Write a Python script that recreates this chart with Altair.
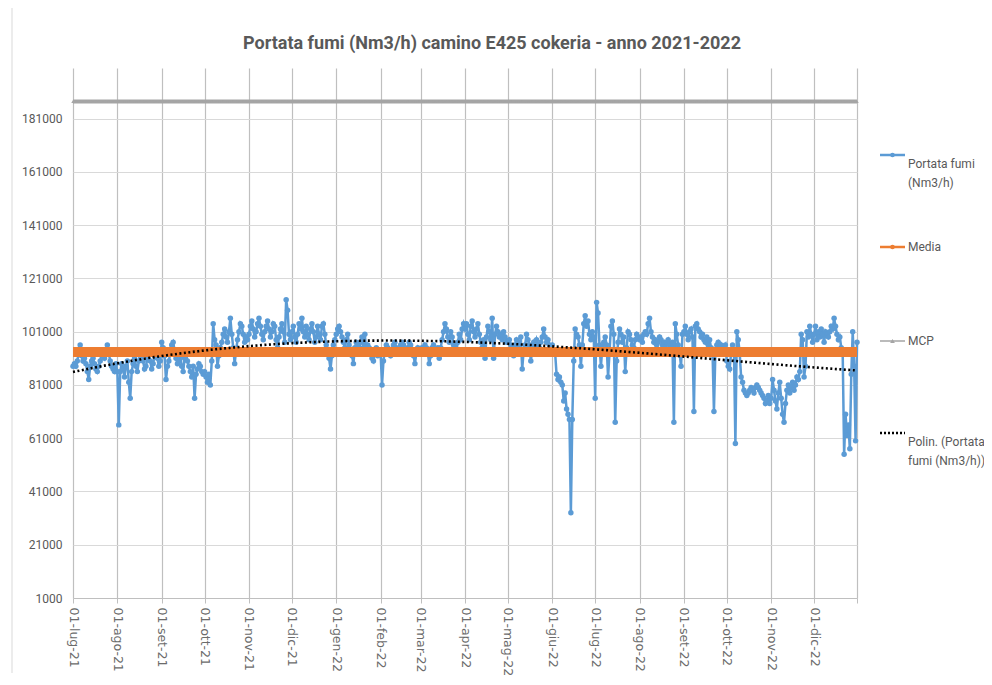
import altair as alt
import pandas as pd

# Daily "Portata fumi" values (thousands of Nm3/h)
jul21 = [88,89,88,90,93,96,92,90,91,89,86,83,88,90,91,89,87,86,88,90,93,92,91,94,96,93,90,88,87,86,89]
aug21 = [86,66,86,89,87,84,88,90,82,76,86,89,91,88,86,90,92,93,90,87,88,91,93,90,87,89,92,94,91,88,90]
sep21 = [97,95,92,83,88,90,93,96,97,94,91,89,90,92,88,86,91,93,90,88,86,84,88,76,85,87,89,88,86,85]
oct21 = [86,84,82,85,81,90,104,98,96,88,92,95,97,100,102,99,97,101,106,100,95,89,94,98,101,104,103,100,97,99,98]
nov21 = [100,103,105,102,99,101,104,106,103,100,98,101,103,105,102,99,101,104,103,98,95,99,102,104,101,97,113,109,100,98]
dec21 = [101,103,99,97,100,104,102,106,101,99,103,100,98,102,104,101,97,99,103,100,98,103,104,100,96,93,91,87,92,96,98]
jan22 = [100,102,103,101,99,97,95,98,100,96,94,92,89,95,97,96,94,97,99,95,100,93,96,95,94,91,90,93,95,92,94]
feb22 = [93,81,90,94,96,95,93,92,94,96,97,95,93,94,96,97,96,94,93,95,97,96,94,92,89,93,95,94]
mar22 = [93,95,94,96,95,93,89,92,95,96,94,93,95,91,95,98,101,104,102,99,97,101,99,96,95,94,97,100,98,102,104]
apr22 = [102,104,100,98,103,105,101,99,102,104,100,97,95,98,91,99,103,101,98,106,91,100,103,101,99,100,98,101,99,97]
may22 = [97,98,96,95,92,96,98,97,95,99,87,94,96,100,98,96,90,94,97,96,98,96,95,97,99,102,99,97,98,96,95]
jun22 = [96,94,93,85,83,84,82,81,75,78,72,70,68,33,68,90,102,100,99,96,88,96,104,107,103,105,100,98,101,99]
jul22 = [76,112,108,96,88,95,97,99,96,84,93,103,105,100,67,90,97,102,100,97,99,86,95,101,100,98,96,95,98,100,99]
aug22 = [98,99,97,100,101,100,104,106,101,99,97,98,96,97,99,98,96,97,95,97,98,96,95,97,67,104,100,96,93,88,100]
sep22 = [101,103,100,98,101,102,99,71,103,104,102,101,99,100,98,97,99,96,98,95,94,71,93,96,97,95,96,93,95,96]
oct22 = [90,88,87,93,96,94,59,101,98,93,84,82,79,78,77,78,79,80,79,78,80,81,80,79,78,77,76,74,75,77,74]
nov22 = [76,83,79,75,72,78,82,76,70,67,74,79,81,78,80,82,79,81,84,83,86,100,98,84,88,101,99,103,100,97]
dec22 = [100,103,98,101,99,102,100,97,101,100,99,101,103,102,106,103,100,98,99,95,93,55,70,62,66,57,85,101,88,60,97]

month_starts = ["2021-07-01","2021-08-01","2021-09-01","2021-10-01","2021-11-01","2021-12-01",
                "2022-01-01","2022-02-01","2022-03-01","2022-04-01","2022-05-01","2022-06-01",
                "2022-07-01","2022-08-01","2022-09-01","2022-10-01","2022-11-01","2022-12-01"]
month_values = [jul21, aug21, sep21, oct21, nov21, dec21, jan22, feb22, mar22, apr22, may22, jun22,
                jul22, aug22, sep22, oct22, nov22, dec22]

MEDIA = 93400   # "Media" line level
MCP = 187400    # "MCP" line level
y_ticks = [1000, 21000, 41000, 61000, 81000, 101000, 121000, 141000, 161000, 181000]

rows = []
for start, vals in zip(month_starts, month_values):
    d0 = pd.Timestamp(start)
    for i, v in enumerate(vals):
        rows.append({"date": (d0 + pd.Timedelta(days=i)).strftime("%Y-%m-%dT00:00:00Z"),
                     "portata": v * 1000, "media": MEDIA, "mcp": MCP})
df = pd.DataFrame(rows)

tick_dates = [alt.DateTime(year=int(s[:4]), month=int(s[5:7]), date=1, utc=True) for s in month_starts]
tick_dates.append(alt.DateTime(year=2022, month=12, date=31, utc=True))

label_expr = ("utcdate(datum.value) == 1 ? '01-' + ['gen','feb','mar','apr','mag','giu','lug','ago','set','ott','nov','dic']"
              "[utcmonth(datum.value)] + '-' + utcFormat(datum.value, '%y') : ''")

FONT = "Roboto"
xscale = alt.Scale(type="utc", domain=[alt.DateTime(year=2021, month=7, date=1, utc=True),
                                       alt.DateTime(year=2022, month=12, date=31, utc=True)])
xenc = alt.X("date:T", scale=xscale, title=None,
             axis=alt.Axis(values=tick_dates, labelExpr=label_expr, labelAngle=90, labelAlign="left",
                           labelBaseline="middle", labelFont="DejaVu Sans", labelFontSize=12.5,
                           labelColor="#6b6b6b", labelPadding=4, tickSize=5, tickColor="#bfbfbf",
                           domainColor="#bfbfbf", gridColor="#bfbfbf", gridWidth=1.2, labelOverlap=False))
yscale = alt.Scale(domain=[1000, 200000], nice=False, zero=False)
yaxis = alt.Axis(values=y_ticks, format="d", labelFont=FONT, labelFontSize=12,
                 labelColor="#595959", ticks=False, domain=False, labelPadding=11,
                 gridColor="#d9d9d9")

base = alt.Chart(df)

portata = base.mark_line(color="#5B9BD5", strokeWidth=2.5,
                         point=alt.OverlayMarkDef(filled=True, size=30, color="#5B9BD5")).encode(
    x=xenc, y=alt.Y("portata:Q", scale=yscale, axis=yaxis, title=None))

media = base.mark_line(color="#ED7D31", strokeWidth=10).encode(
    x="date:T", y=alt.Y("media:Q"))

mcp = base.mark_line(color="#A5A5A5", strokeWidth=4,
                     point=alt.OverlayMarkDef(shape="triangle-up", filled=True, size=12, color="#A5A5A5")).encode(
    x="date:T", y=alt.Y("mcp:Q"))

trend = base.transform_regression("date", "portata", method="poly", order=4).mark_line(
    color="black", strokeDash=[2, 2.5], strokeWidth=2.6).encode(
    x="date:T", y=alt.Y("portata:Q"))

one = alt.Data(values=[{"k": 1}])
title = alt.Chart(one).mark_text(text="Portata fumi (Nm3/h) camino E425 cokeria - anno  2021-2022",
                                 font=FONT, fontSize=18, fontWeight="bold",
                                 color="#595959", align="center", baseline="middle").encode(
    x=alt.value(419), y=alt.value(-24))

frame = alt.Chart(one).mark_rule(color="#d9d9d9", strokeWidth=1).encode(
    x=alt.value(-61), y=alt.value(-60), y2=alt.value(605))

legend_layers = []
leg_items = [
    (["Portata fumi", "(Nm3/h)"], 87, "#5B9BD5", 2.5, "circle", None),
    (["Media"], 179, "#ED7D31", 2.5, "circle", None),
    (["MCP"], 273, "#A5A5A5", 1.5, "triangle-up", None),
    (["Polin. (Portata", "fumi (Nm3/h))"], 365, "black", 2.5, None, [2, 2]),
]
for text, ly, col, sw, shp, dash in leg_items:
    rule_kw = dict(color=col, strokeWidth=sw)
    if dash:
        rule_kw["strokeDash"] = dash
    legend_layers.append(alt.Chart(one).mark_rule(**rule_kw).encode(
        x=alt.value(807), x2=alt.value(832), y=alt.value(ly)))
    if shp:
        legend_layers.append(alt.Chart(one).mark_point(shape=shp, filled=True, size=22, color=col, opacity=1).encode(
            x=alt.value(819.5), y=alt.value(ly)))
    legend_layers.append(alt.Chart(one).mark_text(text=text, font=FONT, fontSize=12,
                                                  color="#595959", align="left", baseline="middle",
                                                  lineHeight=19).encode(
        x=alt.value(835), y=alt.value(ly + 9 * (len(text) - 1))))

chart = alt.layer(portata, media, mcp, trend, title, frame, *legend_layers).properties(
    width=784, height=530,
    autosize=alt.AutoSizeParams(type="none"),
    padding={"left": 65, "top": 60, "right": 127, "bottom": 77},
    background="white",
).configure_view(stroke=None)

chart.save("out.html", embed_options={"renderer": "svg", "actions": False})
